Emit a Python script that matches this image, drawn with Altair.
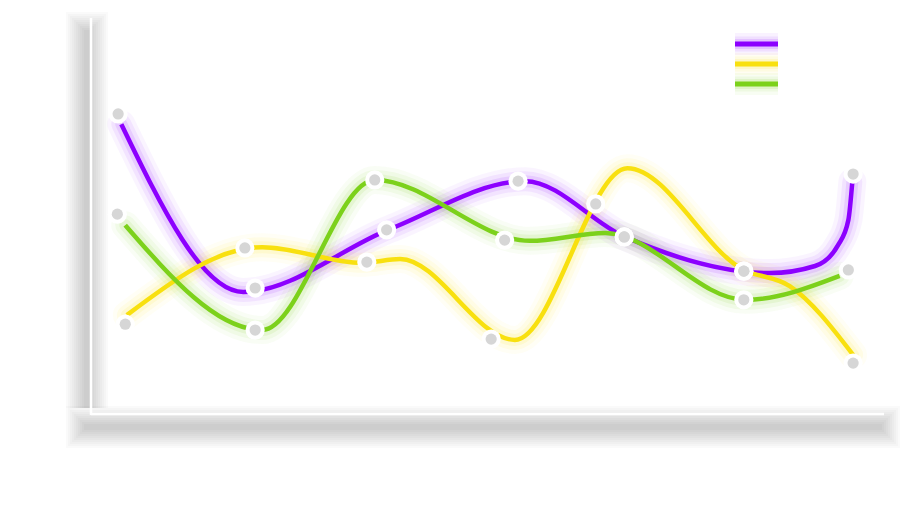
import altair as alt
import pandas as pd

series = ["Series 1", "Series 2", "Series 3"]
colors = ["#8c00ff", "#f8e00f", "#7cd11b"]

# line vertices (curve shape)
lx_s1 = [3.7, 19.1, 37.6, 54.7, 67.3, 85.6, 91.3, 94.2, 95.5, 96.0]
ly_s1 = [73.5, 30.8, 46.8, 59.0, 44.8, 35.6, 37.4, 42.7, 49.1, 58.8]
lx_s2 = [4.4, 21.5, 34.1, 38.9, 53.4, 67.6, 82.3, 88.1, 96.1]
ly_s2 = [24.9, 42.2, 38.2, 39.2, 18.6, 62.3, 36.4, 32.3, 14.8]
lx_s3 = [4.2, 21.5, 35.7, 55.3, 64.8, 82.5, 94.4]
ly_s3 = [47.8, 21.1, 59.3, 43.8, 45.8, 28.8, 34.9]

# marker positions
px_s1 = [3.3, 20.6, 37.2, 53.8, 67.2, 82.3, 96.1]
py_s1 = [76.1, 31.8, 46.6, 59.0, 44.8, 36.1, 60.8]
px_s2 = [4.2, 19.3, 34.7, 50.4, 63.6, 82.3, 96.1]
py_s2 = [22.6, 42.0, 38.4, 18.8, 53.2, 36.1, 12.7]
px_s3 = [3.2, 20.6, 35.7, 52.1, 67.2, 82.3, 95.5]
py_s3 = [50.6, 21.1, 59.3, 44.0, 44.8, 28.8, 36.4]


def build(xs_list, ys_list):
    rows = []
    for name, xs, ys in zip(series, xs_list, ys_list):
        for i, (xv, yv) in enumerate(zip(xs, ys)):
            rows.append({"series": name, "x": xv, "y": yv, "order": i})
    return pd.DataFrame(rows)


lines_df = build([lx_s1, lx_s2, lx_s3], [ly_s1, ly_s2, ly_s3])
points_df = build([px_s1, px_s2, px_s3], [py_s1, py_s2, py_s3])
one = pd.DataFrame({"k": [0]})

W, H = 792, 393
xsc = alt.Scale(domain=[0, 100], nice=False, zero=False)
ysc = alt.Scale(domain=[0, 100], nice=False, zero=False)
csc = alt.Scale(domain=series, range=colors)

X = alt.X("x:Q", scale=xsc, axis=None)
Y = alt.Y("y:Q", scale=ysc, axis=None)
C = alt.Color("series:N", scale=csc, legend=None)

layers = []

# axis shadow (faked with stacked translucent bands)
widths = [42, 38, 34, 30, 26, 22, 18, 14, 10, 6]
for k, w in enumerate(widths):
    layers.append(alt.Chart(one).mark_rule(color="#000", opacity=0.018, strokeWidth=w, strokeCap="butt").encode(
        x=alt.value(-5), y=alt.value(-8 + 2 * k), y2=alt.value(388)))
    layers.append(alt.Chart(one).mark_rule(color="#000", opacity=0.018, strokeWidth=w, strokeCap="butt").encode(
        x=alt.value(-26 + 2 * k), x2=alt.value(808 - 2 * k), y=alt.value(407)))

# axis lines
layers.append(alt.Chart(one).mark_rule(color="white", strokeWidth=2.5).encode(
    x=alt.value(-1), y=alt.value(-2), y2=alt.value(395)))
layers.append(alt.Chart(one).mark_rule(color="white", strokeWidth=2.5).encode(
    x=alt.value(-1), x2=alt.value(792), y=alt.value(394)))

# glow
for w, o in [(28, 0.045), (20, 0.065), (12, 0.1)]:
    layers.append(alt.Chart(lines_df).mark_line(interpolate="monotone", strokeWidth=w, opacity=o, strokeCap="round").encode(
        x=X, y=Y, color=C, detail="series:N", order="order:Q"))

layers.append(alt.Chart(lines_df).mark_line(interpolate="monotone", strokeWidth=4.5, strokeCap="butt").encode(
    x=X, y=Y, color=C, detail="series:N", order="order:Q"))

# points
layers.append(alt.Chart(points_df).mark_circle(size=370, color="white", opacity=1).encode(x=X, y=Y))
layers.append(alt.Chart(points_df).mark_circle(size=125, color="#d6d6d6", opacity=1).encode(x=X, y=Y))

# custom legend
for i, (s, c) in enumerate(zip(series, colors)):
    yy = 24 + 20 * i
    for w, o in [(22, 0.05), (15, 0.08), (10, 0.12)]:
        layers.append(alt.Chart(one).mark_rule(color=c, strokeWidth=w, opacity=o).encode(
            x=alt.value(643), x2=alt.value(686), y=alt.value(yy)))
    layers.append(alt.Chart(one).mark_rule(color=c, strokeWidth=5).encode(
        x=alt.value(643), x2=alt.value(686), y=alt.value(yy)))

chart = alt.layer(*layers).properties(
    width=W, height=H,
    padding={"left": 84, "top": 12, "right": 16, "bottom": 80},
    autosize=alt.AutoSizeParams(type="none"),
    background="white",
).configure_view(stroke=None)

chart.save("out.html", embed_options={"renderer": "svg", "actions": False})
